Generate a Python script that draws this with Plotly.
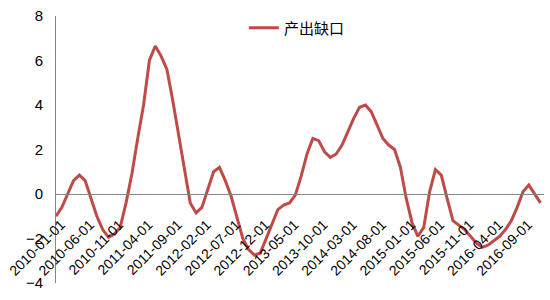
import plotly.graph_objects as go
import pandas as pd

dates = [d.strftime("%Y-%m-%d") for d in pd.date_range("2010-01-01", "2016-12-01", freq="MS")]

output_gap = [
    -1.0, -0.6, 0.0, 0.6, 0.85, 0.6, -0.2, -1.0, -1.6, -1.95,
    -1.8, -1.5, -0.4, 0.9, 2.5, 4.0, 6.0, 6.65, 6.2, 5.6,
    4.2, 2.6, 1.0, -0.4, -0.85, -0.6, 0.2, 1.0, 1.2, 0.6,
    -0.1, -1.1, -2.0, -2.5, -2.75, -2.65, -2.0, -1.3, -0.7, -0.5,
    -0.4, -0.05, 0.8, 1.8, 2.5, 2.4, 1.9, 1.65, 1.8, 2.2,
    2.8, 3.4, 3.9, 4.0, 3.7, 3.1, 2.5, 2.2, 2.0, 1.2,
    -0.2, -1.3, -1.9, -1.5, 0.1, 1.1, 0.85, -0.2, -1.2, -1.4,
    -1.6, -1.9, -2.2, -2.4, -2.3, -2.1, -1.9, -1.6, -1.2, -0.6,
    0.1, 0.4, 0.0, -0.4,
]

tick_labels = dates[::5]
y_ticks = [-4, -2, 0, 2, 4, 6, 8]

fig = go.Figure()
fig.add_trace(go.Scatter(
    x=dates, y=output_gap, mode="lines", name="产出缺口",
    line=dict(color="#BE4B48", width=3),
))

zero_pos = (0 - (-4)) / (8 - (-4))

fig.update_layout(
    width=550, height=300,
    margin=dict(l=52, r=6, t=16, b=17),
    paper_bgcolor="white", plot_bgcolor="white",
    showlegend=True,
    legend=dict(
        orientation="h", x=0.385, xanchor="left", y=0.955, yanchor="middle",
        font=dict(family="Noto Sans CJK SC", size=15, color="#000000"),
        bgcolor="rgba(0,0,0,0)",
    ),
    xaxis=dict(
        type="category", range=[0, 83.6],
        anchor="free", position=zero_pos,
        tickmode="array", tickvals=tick_labels, ticktext=tick_labels,
        tickangle=-45, ticks="",
        ticklabelstandoff=16, ticklabelshift=5,
        tickfont=dict(family="Liberation Sans, Arial", size=14, color="#000000"),
        showline=True, linecolor="#868686", linewidth=1,
        showgrid=False, zeroline=False,
    ),
    yaxis=dict(
        range=[-4, 8], tickvals=y_ticks,
        tickfont=dict(family="Liberation Sans, Arial", size=15, color="#000000"),
        showline=True, linecolor="#868686", linewidth=1,
        showgrid=False, zeroline=False, ticks="",
        ticklabelstandoff=9,
    ),
)

fig.write_html("out.html")
